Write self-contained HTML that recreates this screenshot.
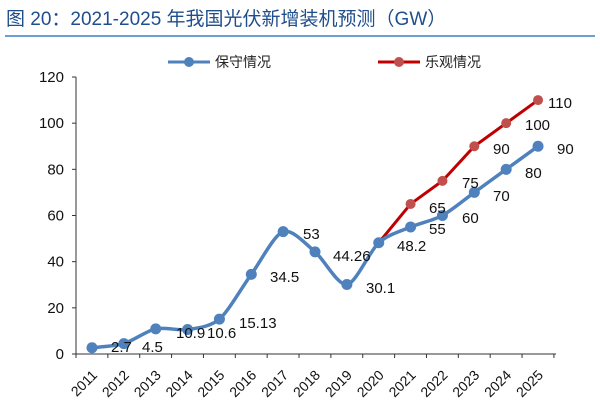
<!DOCTYPE html>
<html><head><meta charset="utf-8"><style>
body{margin:0;background:#fff;width:600px;height:411px;overflow:hidden}
svg{display:block}
text{font-family:"Liberation Sans","Noto Sans CJK SC",sans-serif}
</style></head><body>
<svg id="s" width="600" height="411" xmlns="http://www.w3.org/2000/svg">
<text x="6" y="25" font-size="19" fill="#1f4e8c">图 20：2021-2025 年我国光伏新增装机预测（GW）</text>
<line x1="5" y1="36" x2="595" y2="36" stroke="#3b7fc4" stroke-width="1.5"/>
<line x1="168" y1="62" x2="210" y2="62" stroke="#4f81bd" stroke-width="3"/>
<circle cx="189" cy="62" r="5" fill="#4f81bd"/>
<text x="215" y="67" font-size="14" fill="#222">保守情况</text>
<line x1="378" y1="62" x2="420" y2="62" stroke="#c00000" stroke-width="3"/>
<circle cx="399" cy="62" r="5" fill="#c0504d"/>
<text x="425" y="67" font-size="14" fill="#222">乐观情况</text>
<g id="ax" font-size="15" fill="#111"></g>
</svg>
<script>
const s=document.getElementById('ax'),NS='http://www.w3.org/2000/svg';
function el(t,a,txt){const e=document.createElementNS(NS,t);for(const k in a)e.setAttribute(k,a[k]);if(txt!=null)e.textContent=txt;s.appendChild(e);return e}
const X0=76,Y0=354,step=31.86,px=i=>92+i*step,py=v=>Y0-v*277/120;
el('line',{x1:X0,y1:77,x2:X0,y2:Y0,stroke:'#333'});
el('line',{x1:X0,y1:Y0,x2:556,y2:Y0,stroke:'#333'});
for(let v=0;v<=120;v+=20){el('line',{x1:X0-4,y1:py(v),x2:X0,y2:py(v),stroke:'#333'});el('text',{x:X0-12,y:py(v)+5,'text-anchor':'end'},v)}
for(let i=0;i<=15;i++){const x=X0+i*step;el('line',{x1:x,y1:Y0,x2:x,y2:Y0+4,stroke:'#333'})}
for(let i=0;i<15;i++){const x=px(i)+6,y=Y0+22;el('text',{x:x,y:y,'text-anchor':'end',transform:`rotate(-45 ${x} ${y})`,'font-size':14},2011+i)}
function path(pts,sm){let d=`M${pts[0][0]},${pts[0][1]}`;for(let i=0;i<pts.length-1;i++){const p0=pts[i-1]||pts[i],p1=pts[i],p2=pts[i+1],p3=pts[i+2]||p2,t=sm;d+=` C${p1[0]+(p2[0]-p0[0])*t},${p1[1]+(p2[1]-p0[1])*t} ${p2[0]-(p3[0]-p1[0])*t},${p2[1]-(p3[1]-p1[1])*t} ${p2[0]},${p2[1]}`}return d}
const b=[2.7,4.5,10.9,10.6,15.13,34.5,53,44.26,30.1,48.2,55,60,70,80,90].map((v,i)=>[px(i),py(v)]);
const r=[48.2,65,75,90,100,110].map((v,i)=>[px(i+9),py(v)]);
el('path',{d:path(r,0),fill:'none',stroke:'#c00000','stroke-width':3});
el('path',{d:path(b,1/7),fill:'none',stroke:'#4f81bd','stroke-width':3.5});
r.forEach(p=>el('circle',{cx:p[0],cy:p[1],r:5,fill:'#c0504d'}));
b.forEach(p=>el('circle',{cx:p[0],cy:p[1],r:5.5,fill:'#4f81bd'}));
[["2.7",111,352],["4.5",142,352],["10.9",176,338],["10.6",207,338],["15.13",239,328],["34.5",270,282],["53",303,239],["44.26",333,261],["30.1",366,293],["48.2",397,251],["55",429,234],["60",462,223],["70",493,201],["80",525,178],["90",557,154],["65",429,213],["75",462,188],["90",493,154],["100",525,130],["110",548,108]].forEach(l=>el('text',{x:l[1],y:l[2]},l[0]));
</script>
</body></html>
